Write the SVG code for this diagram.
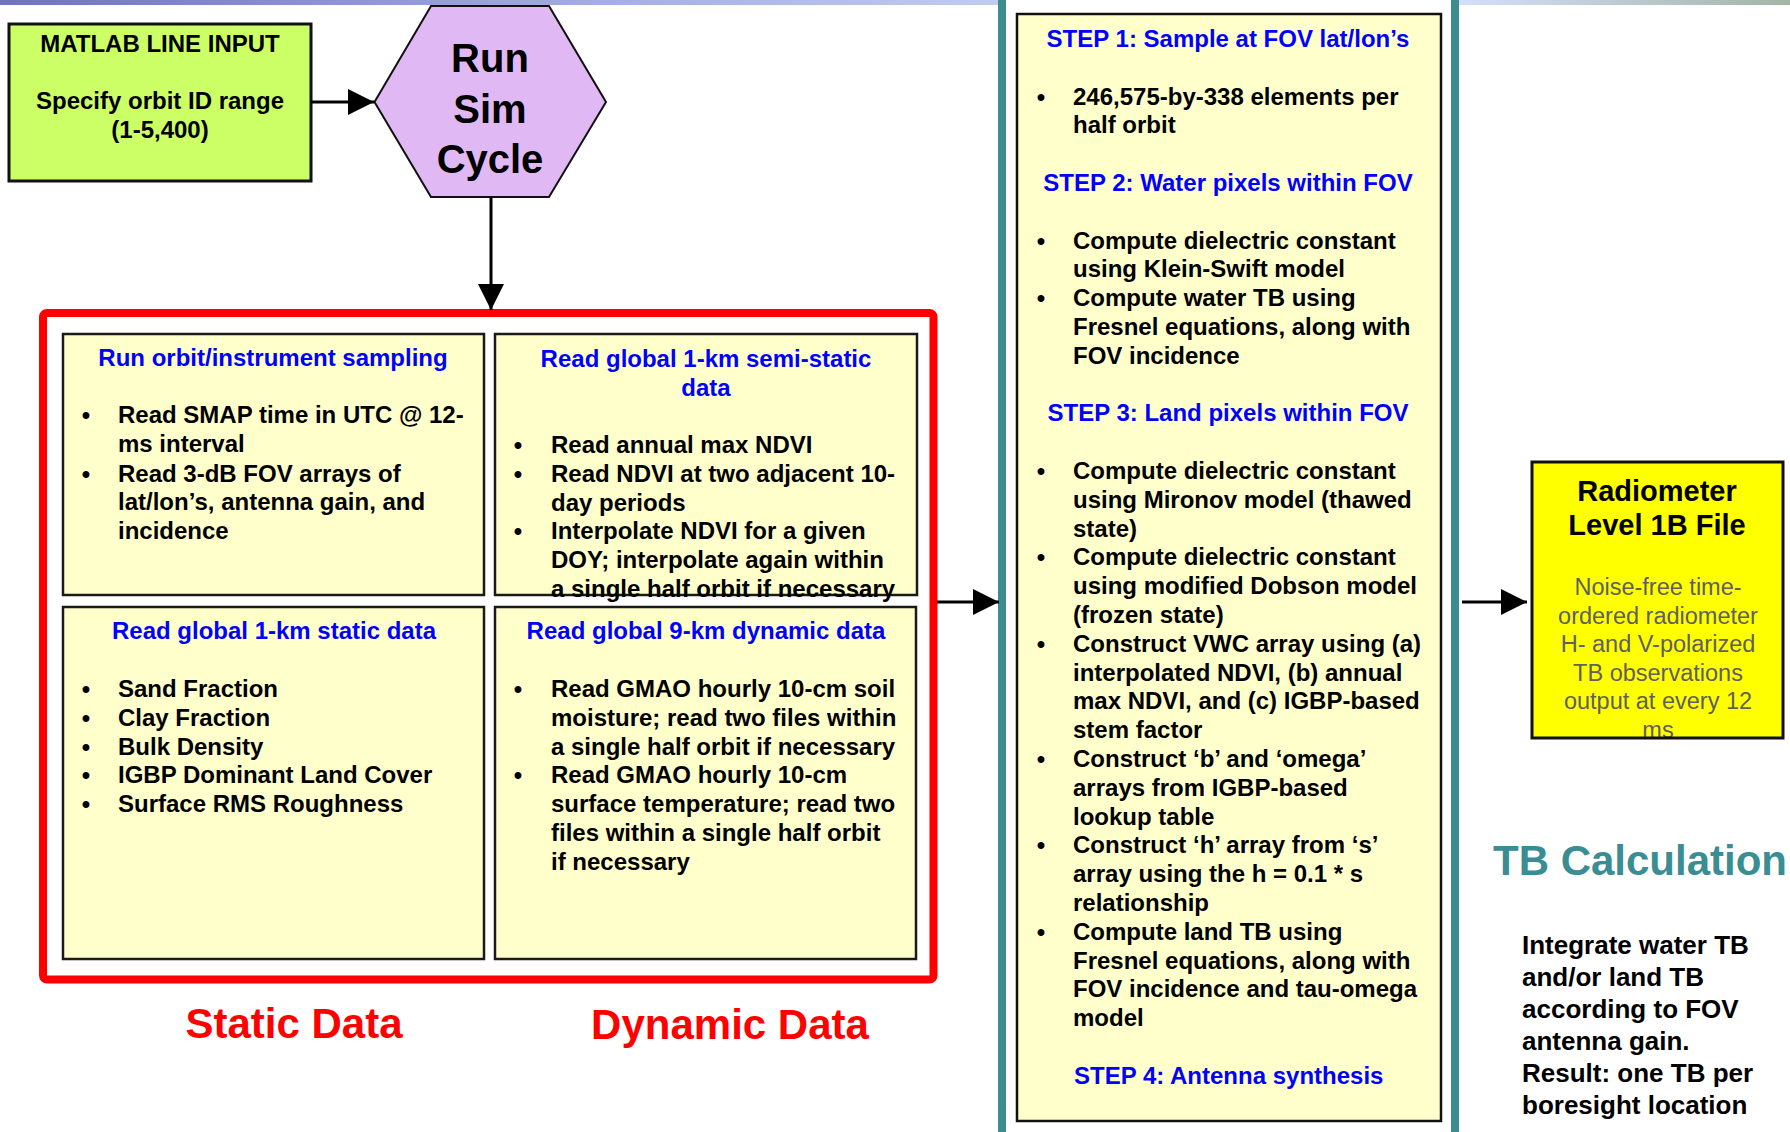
<svg xmlns="http://www.w3.org/2000/svg" width="1790" height="1132" viewBox="0 0 1790 1132">
  <defs>
    <linearGradient id="topband" x1="0" y1="0" x2="1" y2="0">
      <stop offset="0" stop-color="#7074ba"/>
      <stop offset="0.35" stop-color="#a6b0e2"/>
      <stop offset="0.7" stop-color="#d2defa"/>
      <stop offset="0.82" stop-color="#d2defa"/>
      <stop offset="1" stop-color="#a2b6a6"/>
    </linearGradient>
    <marker id="arrow" viewBox="0 0 26 26" refX="26" refY="13" markerWidth="26" markerHeight="26" markerUnits="userSpaceOnUse" orient="auto">
      <path d="M0,0 L26,13 L0,26 z" fill="#000"/>
    </marker>
    <style>
      text { font-family: "Liberation Sans", Arial, sans-serif; font-weight: bold; }
      .body { font-size: 24px; fill: #000; }
      .head { font-size: 24px; fill: #0000ff; }
      .mid { text-anchor: middle; }
      .bul { font-size: 24px; fill: #000; text-anchor: middle; }
      .panel { fill: #ffffcc; stroke: #1a1a1a; stroke-width: 2.5; }
      .conn { stroke: #000; stroke-width: 3; fill: none; marker-end: url(#arrow); }
      .red { font-size: 42px; fill: #ff0000; text-anchor: middle; }
      .note { font-size: 23.5px; fill: #606060; font-weight: normal; text-anchor: middle; }
    </style>
  </defs>

  <rect width="1790" height="1132" fill="#ffffff"/>
  <!-- slide header band -->
  <rect x="0" y="0" width="1790" height="5" fill="url(#topband)"/>

  <!-- input box -->
  <g id="matlab-input">
    <rect x="9" y="24" width="302" height="157" fill="#ccff66" stroke="#111" stroke-width="3"/>
    <text class="mid" x="160" y="52" font-size="24">MATLAB LINE INPUT</text>
    <text class="mid" x="160" y="109" font-size="24">Specify orbit ID range</text>
    <text class="mid" x="160" y="138" font-size="24">(1-5,400)</text>
  </g>

  <!-- sim cycle hexagon -->
  <g id="sim-cycle">
    <polygon points="431,6 549,6 606,102 549,197 431,197 374.5,102" fill="#e0b8f4" stroke="#111" stroke-width="2"/>
    <text class="mid" x="490" y="72" font-size="40">Run</text>
    <text class="mid" x="490" y="123" font-size="40">Sim</text>
    <text class="mid" x="490" y="173" font-size="40">Cycle</text>
  </g>

  <!-- data reading frame -->
  <g id="data-frame">
    <rect x="43" y="313" width="890.5" height="666.5" rx="4" fill="#ffffff" stroke="#ff0000" stroke-width="8"/>
  </g>

  <g id="orbit-sampling">
    <rect class="panel" x="63" y="334" width="421" height="261"/>
    <text class="head mid" x="273" y="366">Run orbit/instrument sampling</text>
    <text class="bul" x="86" y="423">•</text>
    <text class="body" x="118" y="423">Read SMAP time in UTC @ 12-</text>
    <text class="body" x="118" y="452">ms interval</text>
    <text class="bul" x="86" y="481.6">•</text>
    <text class="body" x="118" y="481.6">Read 3-dB FOV arrays of</text>
    <text class="body" x="118" y="510.4">lat/lon’s, antenna gain, and</text>
    <text class="body" x="118" y="539.2">incidence</text>
  </g>

  <g id="semi-static">
    <rect class="panel" x="495" y="334" width="422" height="261"/>
    <text class="head mid" x="706" y="367">Read global 1-km semi-static</text>
    <text class="head mid" x="706" y="396">data</text>
    <text class="bul" x="518" y="453">•</text>
    <text class="body" x="551" y="453">Read annual max NDVI</text>
    <text class="bul" x="518" y="481.8">•</text>
    <text class="body" x="551" y="481.8">Read NDVI at two adjacent 10-</text>
    <text class="body" x="551" y="510.6">day periods</text>
    <text class="bul" x="518" y="539.4">•</text>
    <text class="body" x="551" y="539.4">Interpolate NDVI for a given</text>
    <text class="body" x="551" y="568.2">DOY; interpolate again within</text>
    <text class="body" x="551" y="597">a single half orbit if necessary</text>
  </g>

  <g id="static-data">
    <rect class="panel" x="63" y="607" width="421" height="352"/>
    <text class="head mid" x="274" y="639">Read global 1-km static data</text>
    <text class="bul" x="86" y="697">•</text>
    <text class="body" x="118" y="697">Sand Fraction</text>
    <text class="bul" x="86" y="725.8">•</text>
    <text class="body" x="118" y="725.8">Clay Fraction</text>
    <text class="bul" x="86" y="754.6">•</text>
    <text class="body" x="118" y="754.6">Bulk Density</text>
    <text class="bul" x="86" y="783.4">•</text>
    <text class="body" x="118" y="783.4">IGBP Dominant Land Cover</text>
    <text class="bul" x="86" y="812.2">•</text>
    <text class="body" x="118" y="812.2">Surface RMS Roughness</text>
  </g>

  <g id="dynamic-data">
    <rect class="panel" x="495" y="607" width="421" height="352"/>
    <text class="head mid" x="706" y="639">Read global 9-km dynamic data</text>
    <text class="bul" x="518" y="697">•</text>
    <text class="body" x="551" y="697">Read GMAO hourly 10-cm soil</text>
    <text class="body" x="551" y="725.8">moisture; read two files within</text>
    <text class="body" x="551" y="754.6">a single half orbit if necessary</text>
    <text class="bul" x="518" y="783.4">•</text>
    <text class="body" x="551" y="783.4">Read GMAO hourly 10-cm</text>
    <text class="body" x="551" y="812.2">surface temperature; read two</text>
    <text class="body" x="551" y="841">files within a single half orbit</text>
    <text class="body" x="551" y="869.8">if necessary</text>
  </g>

  <g id="frame-labels">
    <text class="red" x="294" y="1038">Static Data</text>
    <text class="red" x="730" y="1039">Dynamic Data</text>
  </g>

  <!-- TB calculation steps -->
  <g id="tb-steps">
    <rect x="1002" y="-10" width="453" height="1146" fill="#ffffff" stroke="#3d8c90" stroke-width="8"/>
    <rect x="1017" y="14" width="424" height="1107" fill="#ffffcc" stroke="#111" stroke-width="2.5"/>
    <text class="head mid" x="1228" y="47">STEP 1: Sample at FOV lat/lon’s</text>
    <text class="bul" x="1041" y="104.6">•</text>
    <text class="body" x="1073" y="104.6">246,575-by-338 elements per</text>
    <text class="body" x="1073" y="133.4">half orbit</text>
    <text class="head mid" x="1228" y="191">STEP 2: Water pixels within FOV</text>
    <text class="bul" x="1041" y="248.6">•</text>
    <text class="body" x="1073" y="248.6">Compute dielectric constant</text>
    <text class="body" x="1073" y="277.4">using Klein-Swift model</text>
    <text class="bul" x="1041" y="306.2">•</text>
    <text class="body" x="1073" y="306.2">Compute water TB using</text>
    <text class="body" x="1073" y="335">Fresnel equations, along with</text>
    <text class="body" x="1073" y="363.8">FOV incidence</text>
    <text class="head mid" x="1228" y="421.4">STEP 3: Land pixels within FOV</text>
    <text class="bul" x="1041" y="479">•</text>
    <text class="body" x="1073" y="479">Compute dielectric constant</text>
    <text class="body" x="1073" y="507.8">using Mironov model (thawed</text>
    <text class="body" x="1073" y="536.6">state)</text>
    <text class="bul" x="1041" y="565.4">•</text>
    <text class="body" x="1073" y="565.4">Compute dielectric constant</text>
    <text class="body" x="1073" y="594.2">using modified Dobson model</text>
    <text class="body" x="1073" y="623">(frozen state)</text>
    <text class="bul" x="1041" y="651.8">•</text>
    <text class="body" x="1073" y="651.8">Construct VWC array using (a)</text>
    <text class="body" x="1073" y="680.6">interpolated NDVI, (b) annual</text>
    <text class="body" x="1073" y="709.4">max NDVI, and (c) IGBP-based</text>
    <text class="body" x="1073" y="738.2">stem factor</text>
    <text class="bul" x="1041" y="767">•</text>
    <text class="body" x="1073" y="767">Construct ‘b’ and ‘omega’</text>
    <text class="body" x="1073" y="795.8">arrays from IGBP-based</text>
    <text class="body" x="1073" y="824.6">lookup table</text>
    <text class="bul" x="1041" y="853.4">•</text>
    <text class="body" x="1073" y="853.4">Construct ‘h’ array from ‘s’</text>
    <text class="body" x="1073" y="882.2">array using the h = 0.1 * s</text>
    <text class="body" x="1073" y="911">relationship</text>
    <text class="bul" x="1041" y="939.8">•</text>
    <text class="body" x="1073" y="939.8">Compute land TB using</text>
    <text class="body" x="1073" y="968.6">Fresnel equations, along with</text>
    <text class="body" x="1073" y="997.4">FOV incidence and tau-omega</text>
    <text class="body" x="1073" y="1026.2">model</text>
    <text class="head" x="1074" y="1083.8">STEP 4: Antenna synthesis</text>
  </g>

  <!-- output file -->
  <g id="l1b-file">
    <rect x="1532" y="462" width="251" height="276" fill="#ffff00"/>
    <text class="mid" x="1657" y="501" font-size="29">Radiometer</text>
    <text class="mid" x="1657" y="535" font-size="29">Level 1B File</text>
    <text class="note" x="1658" y="595">Noise-free time-</text>
    <text class="note" x="1658" y="623.5">ordered radiometer</text>
    <text class="note" x="1658" y="652">H- and V-polarized</text>
    <text class="note" x="1658" y="680.5">TB observations</text>
    <text class="note" x="1658" y="709">output at every 12</text>
    <text class="note" x="1658" y="737.5">ms</text>
    <rect x="1532" y="462" width="251" height="276" fill="none" stroke="#111" stroke-width="3"/>
  </g>

  <g id="tb-calculation-note">
    <text x="1493" y="875" font-size="42" fill="#3a8d92">TB Calculation</text>
    <g font-size="26" fill="#000">
      <text x="1522" y="954">Integrate water TB</text>
      <text x="1522" y="986">and/or land TB</text>
      <text x="1522" y="1018">according to FOV</text>
      <text x="1522" y="1050">antenna gain.</text>
      <text x="1522" y="1082">Result: one TB per</text>
      <text x="1522" y="1114">boresight location</text>
    </g>
  </g>

  <!-- connectors -->
  <g id="connectors">
    <line class="conn" x1="311" y1="102" x2="374" y2="102"/>
    <line class="conn" x1="491" y1="197" x2="491" y2="310"/>
    <line class="conn" x1="937" y1="602" x2="999" y2="602"/>
    <line class="conn" x1="1462" y1="602" x2="1527" y2="602"/>
  </g>
</svg>
